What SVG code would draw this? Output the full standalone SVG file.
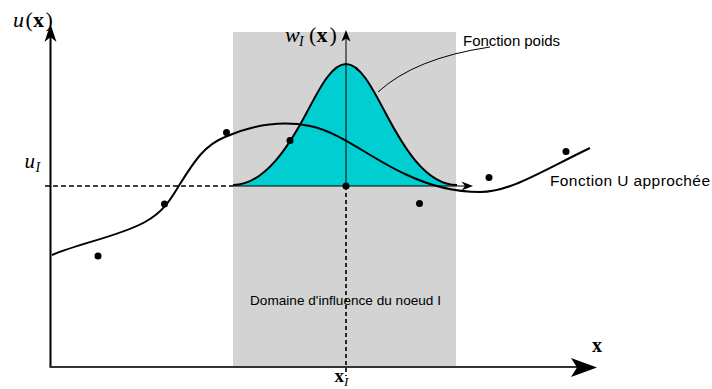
<svg xmlns="http://www.w3.org/2000/svg" width="712" height="389" viewBox="0 0 712 389">
<style>
.sans{font-family:"Liberation Sans",Arial,sans-serif;fill:#000}
.math{font-family:"Liberation Serif","Times New Roman",serif;fill:#000}
.it{font-style:italic}
.bf{font-weight:bold}
.curve{fill:none;stroke:#000;stroke-width:2}
.dot{fill:#000}
</style>
<rect width="712" height="389" fill="#fff"/>
<g id="domain">
<rect x="233" y="32" width="223" height="334" fill="#d3d3d3"/>
<text class="sans" x="250" y="305" font-size="13.6" textLength="191">Domaine d'influence du noeud I</text>
</g>
<g id="weight">
<path d="M233,186 L233,185 C265,185 290,144.3 307,112 C320,87.3 332,64 346,64 C360,64 372,87.3 385,112 C402,144.3 425,185 457,185 L457,186 Z" fill="#00ced1"/>
<path class="curve" d="M233,185 C265,185 290,144.3 307,112 C320,87.3 332,64 346,64 C360,64 372,87.3 385,112 C402,144.3 425,185 457,185"/>
<text class="sans" x="463" y="45.5" font-size="15" textLength="97">Fonction poids</text>
<path d="M490,47 Q415,58 378,92" fill="none" stroke="#000" stroke-width="1"/>
</g>
<g id="connectors">
<line x1="45" y1="186" x2="233" y2="186" stroke="#000" stroke-width="1.5" stroke-dasharray="5,3"/>
<line x1="233" y1="186" x2="466" y2="186" stroke="#000" stroke-width="1"/>
<path d="M473,186 L461.5,181.5 L465,186 L461.5,190.5 Z" fill="#000"/>
<line x1="346" y1="186" x2="346" y2="36" stroke="#000" stroke-width="1"/>
<path d="M346,30 L341.5,41.5 L346,38.5 L350.5,41.5 Z" fill="#000"/>
<line x1="346" y1="186" x2="346" y2="376" stroke="#000" stroke-width="1.6" stroke-dasharray="4,3"/>
<line x1="50.5" y1="367" x2="50.5" y2="34" stroke="#000" stroke-width="2"/>
<path d="M50.5,24 L44.5,42 L50.5,37 L56.5,42 Z" fill="#000"/>
<line x1="49.5" y1="367" x2="580" y2="367" stroke="#333" stroke-width="2"/>
<path d="M597,367.5 L571,358 L577,367.5 L571,377 Z" fill="#000"/>
</g>
<g id="approx">
<path class="curve" d="M52,255 C80,243 120,236 145,222 C165,211 172,197 180,184 C195,160 205,145 225,137 C250,126 280,120 310,126 C340,132 370,158 405,174 C430,186 455,192 480,192 C510,192 540,172 590,148"/>
<text class="sans" x="550" y="185.5" font-size="15.5" textLength="160">Fonction U approchée</text>
</g>
<g id="nodes">
<circle class="dot" cx="98" cy="256" r="3.5"/>
<circle class="dot" cx="164.5" cy="204" r="3.5"/>
<circle class="dot" cx="226.5" cy="132.5" r="3.5"/>
<circle class="dot" cx="290" cy="140.5" r="3.5"/>
<circle class="dot" cx="346" cy="186" r="3.5"/>
<circle class="dot" cx="419.5" cy="203.5" r="3.5"/>
<circle class="dot" cx="489" cy="177.5" r="3.5"/>
<circle class="dot" cx="566" cy="151.5" r="3.5"/>
</g>
<g id="labels">
<text class="math" font-size="22" y="27"><tspan class="it" x="13">u</tspan><tspan x="25.5">(</tspan><tspan class="bf" x="33">x</tspan><tspan x="45.5">)</tspan></text>
<text class="math" font-size="22" y="42"><tspan class="it" x="285">w</tspan><tspan class="it" x="299" y="46" font-size="14">I</tspan><tspan x="309" y="42">(</tspan><tspan class="bf" x="316.5">x</tspan><tspan x="329.5">)</tspan></text>
<text class="math" font-size="21" y="168"><tspan class="it" x="24.5">u</tspan><tspan class="it" x="35.5" y="172" font-size="14">I</tspan></text>
<text class="math bf" font-size="20" x="592" y="351.5">x</text>
<text class="math" font-size="19" y="381.5"><tspan class="bf" x="334.5">x</tspan><tspan class="it" x="344" y="385.5" font-size="13">I</tspan></text>
</g>
</svg>
